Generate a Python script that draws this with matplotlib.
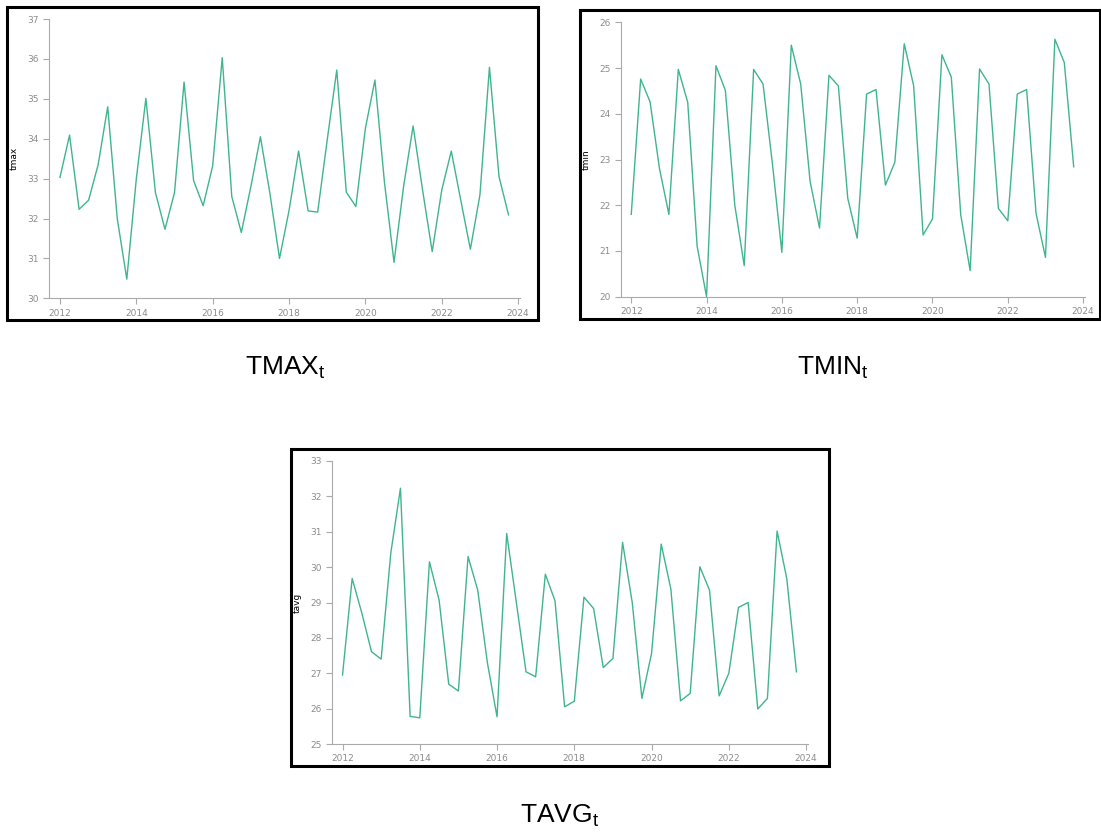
import numpy as np
import matplotlib
matplotlib.use("Agg")
import matplotlib.pyplot as plt
from matplotlib.patches import Rectangle

# quarterly series, 2012 Q1 .. 2023 Q4
years = 2012 + 0.25 * np.arange(48)

tmax = [33.03, 34.09, 32.23, 32.46, 33.35, 34.80, 32.00, 30.48,
        33.00, 35.01, 32.65, 31.73, 32.65, 35.42, 32.95, 32.32,
        33.32, 36.03, 32.55, 31.65, 32.80, 34.05, 32.62, 31.00,
        32.20, 33.69, 32.19, 32.16, 33.97, 35.72, 32.66, 32.30,
        34.26, 35.47, 32.90, 30.90, 32.80, 34.32, 32.70, 31.17,
        32.71, 33.69, 32.45, 31.23, 32.59, 35.79, 33.05, 32.09]

tmin = [21.80, 24.76, 24.26, 22.80, 21.80, 24.97, 24.25, 21.10,
        20.00, 25.05, 24.51, 22.00, 20.68, 24.97, 24.65, 22.90,
        20.97, 25.50, 24.65, 22.52, 21.50, 24.84, 24.61, 22.15,
        21.28, 24.43, 24.53, 22.44, 22.94, 25.53, 24.61, 21.35,
        21.70, 25.29, 24.80, 21.79, 20.57, 24.98, 24.65, 21.93,
        21.66, 24.43, 24.53, 21.82, 20.86, 25.63, 25.12, 22.84]

tavg = [26.95, 29.68, 28.70, 27.61, 27.40, 30.40, 32.23, 25.78,
        25.74, 30.15, 29.07, 26.69, 26.50, 30.30, 29.35, 27.30,
        25.77, 30.95, 29.00, 27.04, 26.90, 29.80, 29.05, 26.05,
        26.21, 29.15, 28.83, 27.16, 27.42, 30.70, 29.00, 26.29,
        27.56, 30.65, 29.38, 26.22, 26.43, 30.01, 29.35, 26.36,
        27.00, 28.86, 29.00, 25.99, 26.29, 31.02, 29.68, 27.04]

W, H = 1101, 832
line_color = "#3fb58c"
tick_color = "#8c8c8c"

fig = plt.figure(figsize=(W / 100, H / 100), dpi=100)


def px_axes(left, top, right, bottom):
    return fig.add_axes([left / W, 1 - bottom / H, (right - left) / W, (bottom - top) / H])


def px_box(left, top, right, bottom):
    fig.patches.append(Rectangle((left / W, 1 - bottom / H), (right - left) / W,
                                 (bottom - top) / H, transform=fig.transFigure,
                                 fill=False, edgecolor="black", linewidth=2.2))


def panel(ax, y, ylim, name):
    ax.plot(years, y, color=line_color, linewidth=1.0)
    ax.set_xlim(2011.72, 2024.05)
    ax.set_ylim(*ylim)
    ax.set_xticks(range(2012, 2025, 2))
    ax.set_yticks(range(ylim[0], ylim[1] + 1))
    for s in ("top", "right"):
        ax.spines[s].set_visible(False)
    for s in ("left", "bottom"):
        ax.spines[s].set_color("#aaaaaa")
        ax.spines[s].set_linewidth(0.8)
    ax.tick_params(colors="#aaaaaa", labelcolor=tick_color, labelsize=6.5,
                   length=4, width=0.8, direction="out")
    ax.set_ylabel(name, fontsize=6.5, color="black", labelpad=6)
    ax.patch.set_alpha(0)


cap_font = ["Liberation Sans Narrow", "Liberation Sans", "DejaVu Sans"]

px_box(7, 7, 538, 320)
ax1 = px_axes(49.3, 19, 520, 298.3)
panel(ax1, tmax, (30, 37), "tmax")

px_box(580, 10, 1100, 319)
ax2 = px_axes(620.7, 22.3, 1085, 296.7)
panel(ax2, tmin, (20, 26), "tmin")

px_box(291, 449, 829, 766)
ax3 = px_axes(331.7, 461, 808, 744)
panel(ax3, tavg, (25, 33), "tavg")

captions = [("TMAX", 285, 368), ("TMIN", 833, 368), ("TAVG", 560, 816)]
for txt, cx, cy in captions:
    fig.text(cx / W, 1 - cy / H, txt + r"$_{\mathregular{t}}$", ha="center", va="center",
             fontsize=19, family=cap_font)

fig.savefig("out.png", dpi=100)
